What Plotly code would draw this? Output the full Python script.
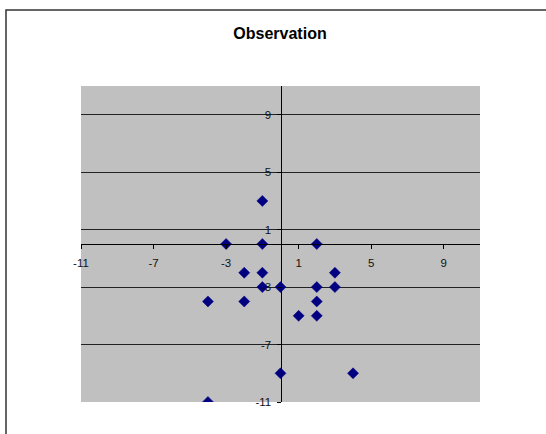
import plotly.graph_objects as go

x_vals = [-4, -4, -3, -2, -2, -1, -1, -1, -1, 0, 0, 1, 2, 2, 2, 2, 3, 3, 4]
y_vals = [-11, -4, 0, -2, -4, 3, 0, -2, -3, -3, -9, -5, 0, -3, -4, -5, -2, -3, -9]
x_ticks = [-11, -7, -3, 1, 5, 9]
y_ticks = [-11, -7, -3, 1, 5, 9]
title_text = "Observation"

W, H = 546, 434
L, R, T, B = 81, 480, 86, 402

fig = go.Figure(go.Scatter(
    x=x_vals, y=y_vals, mode="markers",
    marker=dict(symbol="diamond", size=8.5, color="#000080",
                line=dict(color="#000080", width=0.5)),
    showlegend=False, hoverinfo="x+y",
))

font = dict(family="Liberation Sans, Arial, sans-serif", size=11.5, color="#111111")

fig.update_layout(
    width=W, height=H,
    margin=dict(l=L, r=W - R, t=T, b=H - B, pad=0),
    paper_bgcolor="#FFFFFF",
    plot_bgcolor="#C0C0C0",
    title=dict(text="<b>" + title_text + "</b>", x=(280 - L) / (R - L), xref="paper",
               xanchor="center", y=1 - 33 / H, yanchor="middle",
               font=dict(family="Liberation Sans, Arial, sans-serif", size=16, color="#000000")),
    xaxis=dict(range=[-11, 11], tickvals=x_ticks, ticktext=[str(v) for v in x_ticks],
               showgrid=False, zeroline=False, showline=True, linecolor="#000000",
               linewidth=1, ticks="outside", ticklen=4, tickcolor="#000000",
               ticklabelstandoff=4,
               anchor="free", position=0.5, tickfont=font, fixedrange=True),
    yaxis=dict(range=[-11, 11], tickvals=y_ticks, ticktext=[str(v) for v in y_ticks],
               showgrid=True, gridcolor="#222222", gridwidth=1, zeroline=False,
               showline=True, linecolor="#000000", linewidth=1, ticks="outside",
               ticklen=4, tickcolor="#000000", ticklabelstandoff=3,
               anchor="free", position=0.5,
               tickfont=font, fixedrange=True),
)

# outer chart border (extends beyond the visible window on right/bottom)
pw, ph = R - L, B - T
fig.add_shape(type="rect", xref="paper", yref="paper",
              x0=(6 - L) / pw, x1=(560 - L) / pw,
              y0=(B - 450) / ph, y1=(B - 10) / ph,
              line=dict(color="#333333", width=1.5), fillcolor="rgba(0,0,0,0)", layer="above")

fig.write_html("out.html")
